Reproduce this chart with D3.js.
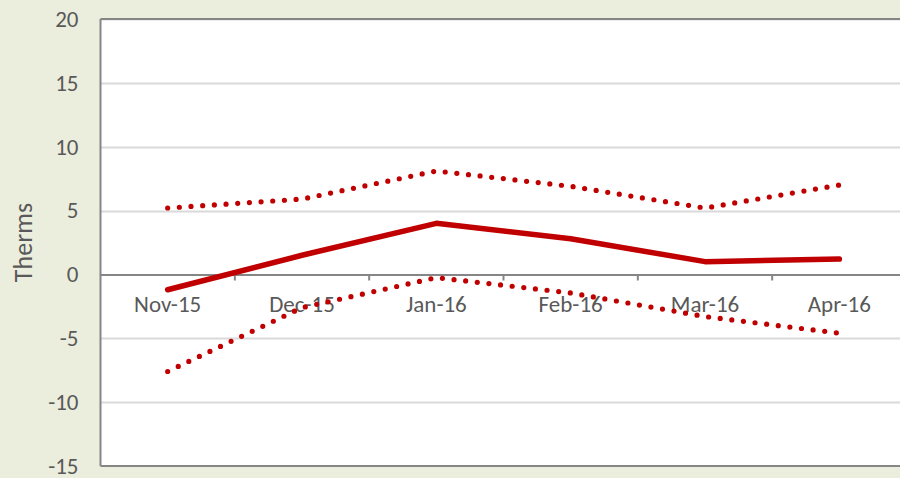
<!DOCTYPE html>
<html>
<head>
<meta charset="utf-8">
<script src="https://cdn.jsdelivr.net/npm/d3@7"></script>
<style>
  html, body { margin: 0; padding: 0; background: #EBEEDD; }
  svg { display: block; }
</style>
</head>
<body>
<svg id="chart" width="900" height="478"></svg>
<script>
// Monthly therm estimate with upper / lower bounds
const months = ["Nov-15", "Dec-15", "Jan-16", "Feb-16", "Mar-16", "Apr-16"];
const estimate = [-1.2, 1.5, 4.0, 2.8, 1.0, 1.2];
const upperBound = [5.2, 5.9, 8.1, 6.9, 5.2, 7.0];
const lowerBound = [-7.6, -2.6, -0.25, -1.45, -3.3, -4.6];
const yTicks = [-15, -10, -5, 0, 5, 10, 15, 20];

const svg = d3.select("#chart");
const W = 900, H = 478;
const plot = { left: 100.5, top: 19, right: 906.5, bottom: 466 };
const font = "Calibri, Carlito, 'Open Sans', 'Liberation Sans', sans-serif";
const textColor = "#595959";
const red = "#C00000";

svg.append("rect").attr("width", W).attr("height", H).attr("fill", "#EBEEDD");
svg.append("rect")
  .attr("x", plot.left).attr("y", plot.top)
  .attr("width", plot.right - plot.left).attr("height", plot.bottom - plot.top)
  .attr("fill", "#ffffff");

const x = d3.scaleBand().domain(months).range([plot.left, plot.right]).padding(0);
const y = d3.scaleLinear().domain([-15, 20]).range([plot.bottom, plot.top]);

// Horizontal gridlines
svg.append("g").selectAll("line")
  .data(yTicks.filter(t => t !== 0 && t !== -15))
  .join("line")
  .attr("x1", plot.left).attr("x2", plot.right)
  .attr("y1", d => Math.round(y(d)) + 0.5).attr("y2", d => Math.round(y(d)) + 0.5)
  .attr("stroke", "#D9D9D9").attr("stroke-width", 2);

// Y axis labels (plain hyphen for negatives)
const yAxis = d3.axisLeft(y).tickValues(yTicks).tickSize(0).tickPadding(22)
  .tickFormat(d => String(d));
const gy = svg.append("g").attr("transform", `translate(${plot.left},0)`).call(yAxis);
gy.select(".domain").remove();
gy.selectAll("text")
  .attr("font-family", font).attr("font-size", 23).attr("fill", textColor);

// Plot frame: left, top and bottom
svg.append("line")
  .attr("x1", plot.left).attr("x2", plot.left)
  .attr("y1", plot.top).attr("y2", plot.bottom)
  .attr("stroke", "#868686").attr("stroke-width", 2);
svg.append("line")
  .attr("x1", plot.left).attr("x2", plot.right)
  .attr("y1", plot.bottom).attr("y2", plot.bottom)
  .attr("stroke", "#868686").attr("stroke-width", 2);
svg.append("line")
  .attr("x1", plot.left).attr("x2", plot.right)
  .attr("y1", plot.top).attr("y2", plot.top)
  .attr("stroke", "#868686").attr("stroke-width", 2);

// Category axis along the zero line
const xAxis = d3.axisBottom(x).tickSize(0).tickPadding(21.5);
const gx = svg.append("g").attr("transform", `translate(0,${Math.round(y(0)) + 0.5})`).call(xAxis);
gx.select(".domain").attr("stroke", "#868686").attr("stroke-width", 2);
gx.selectAll("text")
  .attr("font-family", font).attr("font-size", 23).attr("fill", textColor);
// tick marks between categories
gx.append("g").selectAll("line")
  .data(months.slice(1))
  .join("line")
  .attr("x1", d => x(d)).attr("x2", d => x(d))
  .attr("y1", 0).attr("y2", 6)
  .attr("stroke", "#868686").attr("stroke-width", 2);

// Axis title
svg.append("text")
  .attr("transform", `translate(32,${(plot.top + plot.bottom) / 2}) rotate(-90)`)
  .attr("text-anchor", "middle")
  .attr("font-family", font).attr("font-size", 26).attr("fill", textColor)
  .text("Therms");

const cx = d => x(d) + x.bandwidth() / 2;
const line = d3.line().x(d => cx(d[0])).y(d => y(d[1]));

function drawSeries(values, dotted) {
  const path = svg.append("path")
    .datum(months.map((m, i) => [m, values[i]]))
    .attr("fill", "none")
    .attr("stroke", red)
    .attr("stroke-linecap", "round")
    .attr("stroke-linejoin", "round")
    .attr("d", line);
  if (dotted) {
    path.attr("stroke-width", 5.2).attr("stroke-dasharray", "0 11.7");
  } else {
    path.attr("stroke-width", 5.5);
  }
}

drawSeries(upperBound, true);
drawSeries(lowerBound, true);
drawSeries(estimate, false);
</script>
</body>
</html>
